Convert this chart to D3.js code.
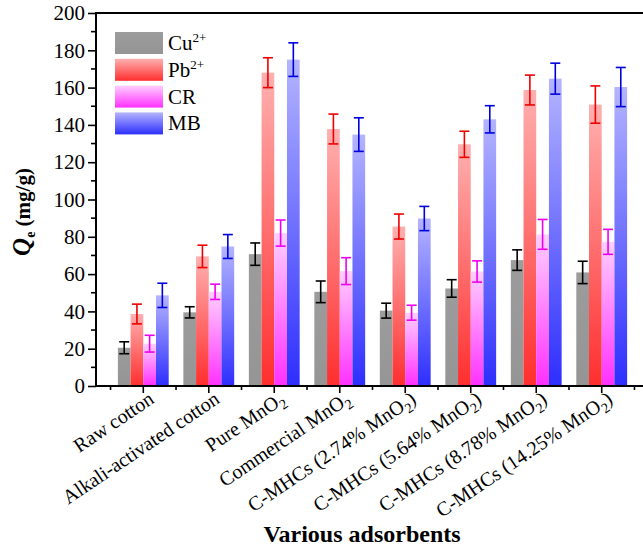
<!DOCTYPE html>
<html>
<head>
<meta charset="utf-8">
<script src="https://cdn.jsdelivr.net/npm/d3@7"></script>
<style>
  html, body { margin: 0; padding: 0; background: #fff; }
  svg { display: block; }
</style>
</head>
<body>
<svg id="chart" width="643" height="556"></svg>
<script>
// ---- data ----
const categories = [
  "Raw cotton",
  "Alkali-activated cotton",
  "Pure MnO_{2}",
  "Commercial MnO_{2}",
  "C-MHCs (2.74% MnO_{2})",
  "C-MHCs (5.64% MnO_{2})",
  "C-MHCs (8.78% MnO_{2})",
  "C-MHCs (14.25% MnO_{2})"
];
const seriesNames = ["Cu^{2+}", "Pb^{2+}", "CR", "MB"];
const cuValues = [20.5, 39.5, 70.7, 50.5, 40.4, 52.3, 67.5, 60.9];
const cuErrors = [3.2, 3.0, 6.0, 5.8, 4.0, 4.7, 5.5, 6.0];
const pbValues = [38.6, 69.5, 168.0, 137.8, 85.5, 129.6, 158.7, 150.9];
const pbErrors = [5.3, 6.0, 8.0, 8.0, 6.7, 7.0, 8.0, 10.0];
const crValues = [22.7, 50.5, 82.0, 61.6, 39.3, 61.4, 81.3, 77.3];
const crErrors = [4.5, 4.1, 7.0, 7.2, 4.0, 5.7, 8.0, 6.7];
const mbValues = [48.6, 74.8, 175.0, 134.8, 89.8, 143.0, 164.8, 160.3];
const mbErrors = [6.5, 6.4, 9.0, 9.0, 6.5, 7.3, 8.3, 10.5];
const yTicks = [0, 20, 40, 60, 80, 100, 120, 140, 160, 180, 200];

const seriesValues = [cuValues, pbValues, crValues, mbValues];
const seriesErrors = [cuErrors, pbErrors, crErrors, mbErrors];
const seriesStyle = [
  { c0: "#9c9c9c", c1: "#959595", err: "#000000" },
  { c0: "#ffb0b0", c1: "#ff2e2e", err: "#ee0000" },
  { c0: "#ffd0ff", c1: "#ff30ff", err: "#ee00ee" },
  { c0: "#b4b4ff", c1: "#2e2eff", err: "#0000dd" }
];
const FONT = "'Liberation Serif', 'Times New Roman', serif";

// ---- layout ----
const svg = d3.select("#chart").attr("font-family", FONT);
const mLeft = 96, mTop = 13, mBottom = 386, mRight = 649;

const x = d3.scaleLinear().domain([0.278, 8.722]).range([mLeft, mRight]);
const y = d3.scaleLinear().domain([0, 200]).range([mBottom, mTop]);
const sub = d3.scaleBand().domain(d3.range(4)).range([-0.388, 0.388]).padding(0);

// gradients
const defs = svg.append("defs");
seriesStyle.forEach((s, i) => {
  const g = defs.append("linearGradient").attr("id", "grad" + i)
    .attr("x1", 0).attr("y1", 0).attr("x2", 0).attr("y2", 1);
  g.append("stop").attr("offset", "0%").attr("stop-color", s.c0);
  g.append("stop").attr("offset", "100%").attr("stop-color", s.c1);
});

// helper: render text with _{sub} and ^{sup}
function richText(sel, str, subSize, subDy) {
  const parts = str.split(/(_\{[^}]*\}|\^\{[^}]*\})/).filter(p => p.length);
  let pending = 0;
  parts.forEach(p => {
    if (p.startsWith("_{")) {
      sel.append("tspan").attr("font-size", subSize).attr("dy", subDy + pending).text(p.slice(2, -1));
      pending = -subDy;
    } else if (p.startsWith("^{")) {
      sel.append("tspan").attr("font-size", subSize).attr("dy", -subDy + pending).text(p.slice(2, -1));
      pending = subDy;
    } else {
      const t = sel.append("tspan").text(p);
      if (pending) t.attr("dy", pending);
      pending = 0;
    }
  });
}

// bars
const plot = svg.append("g");
seriesValues.forEach((vals, si) => {
  plot.selectAll(".bar" + si).data(vals).join("rect")
    .attr("class", "bar" + si)
    .attr("x", (d, i) => x(i + 1 + sub(si)))
    .attr("width", (d, i) => x(i + 1 + sub(si) + sub.bandwidth()) - x(i + 1 + sub(si)))
    .attr("y", d => y(d))
    .attr("height", d => y(0) - y(d))
    .attr("fill", `url(#grad${si})`);
});

// error bars
seriesValues.forEach((vals, si) => {
  const errs = seriesErrors[si];
  const col = seriesStyle[si].err;
  const g = plot.append("g").attr("stroke", col).attr("stroke-width", 1.6).attr("fill", "none");
  vals.forEach((v, i) => {
    const cx = x(i + 1 + sub(si) + sub.bandwidth() / 2);
    const y1 = y(v + errs[i]), y2 = y(v - errs[i]);
    g.append("line").attr("x1", cx).attr("x2", cx).attr("y1", y1).attr("y2", y2);
    g.append("line").attr("x1", cx - 5).attr("x2", cx + 5).attr("y1", y1).attr("y2", y1);
    g.append("line").attr("x1", cx - 5).attr("x2", cx + 5).attr("y1", y2).attr("y2", y2);
  });
});

// axes
const axisG = svg.append("g").attr("stroke", "#000").attr("stroke-width", 2);
axisG.append("line").attr("x1", mLeft).attr("x2", mLeft).attr("y1", mTop - 1).attr("y2", mBottom + 1);
axisG.append("line").attr("x1", mLeft - 1).attr("x2", mRight).attr("y1", mBottom).attr("y2", mBottom);
axisG.append("line").attr("x1", mLeft - 1).attr("x2", mRight).attr("y1", mTop).attr("y2", mTop);

// y ticks
const yAxis = d3.axisLeft(y).tickValues(yTicks).tickSize(8).tickPadding(3);
const yg = svg.append("g").attr("transform", `translate(${mLeft},0)`).call(yAxis)
  .attr("font-family", FONT).attr("font-size", 21);
yg.select(".domain").remove();
yg.selectAll(".tick line").attr("stroke-width", 1.6);
yg.selectAll(".tick text").attr("fill", "#000");
const yMinor = d3.range(10, 200, 20);
svg.append("g").selectAll("line").data(yMinor).join("line")
  .attr("x1", mLeft - 5).attr("x2", mLeft).attr("y1", d => y(d)).attr("y2", d => y(d))
  .attr("stroke", "#000").attr("stroke-width", 1.6);

// x ticks
const xMajor = d3.range(1, categories.length + 1);
const xMinor = d3.range(0.5, categories.length + 1, 1);
svg.append("g").selectAll("line").data(xMajor).join("line")
  .attr("x1", d => x(d)).attr("x2", d => x(d)).attr("y1", mBottom).attr("y2", mBottom + 7)
  .attr("stroke", "#000").attr("stroke-width", 1.6);
svg.append("g").selectAll("line").data(xMinor).join("line")
  .attr("x1", d => x(d)).attr("x2", d => x(d)).attr("y1", mBottom).attr("y2", mBottom + 4)
  .attr("stroke", "#000").attr("stroke-width", 1.6);

// x labels
const xl = svg.append("g").attr("font-size", 20).attr("fill", "#000");
categories.forEach((c, i) => {
  const px = x(i + 1) + 12, py = mBottom + 16;
  const t = xl.append("text").attr("text-anchor", "end")
    .attr("transform", `translate(${px},${py}) rotate(-34)`);
  richText(t, c, 14, 5);
});

// axis titles
svg.append("text").attr("x", 362).attr("y", 542).attr("text-anchor", "middle")
  .attr("font-size", 24).attr("font-weight", "bold").text("Various adsorbents");

const yt = svg.append("text").attr("text-anchor", "middle")
  .attr("transform", "translate(30,212) rotate(-90)")
  .attr("font-size", 21).attr("font-weight", "bold");
yt.append("tspan").attr("font-style", "italic").attr("font-size", 25).text("Q");
yt.append("tspan").attr("font-size", 14).attr("dy", 5).text("e");
yt.append("tspan").attr("dy", -5).text(" (mg/g)");

// legend
const lg = svg.append("g");
seriesNames.forEach((n, i) => {
  const ly = 32 + i * 26.8;
  lg.append("rect").attr("x", 115).attr("y", ly).attr("width", 48).attr("height", 22)
    .attr("fill", `url(#grad${i})`);
  const t = lg.append("text").attr("x", 168).attr("y", ly + 18).attr("font-size", 21);
  richText(t, n, 13, 8);
});
</script>
</body>
</html>
